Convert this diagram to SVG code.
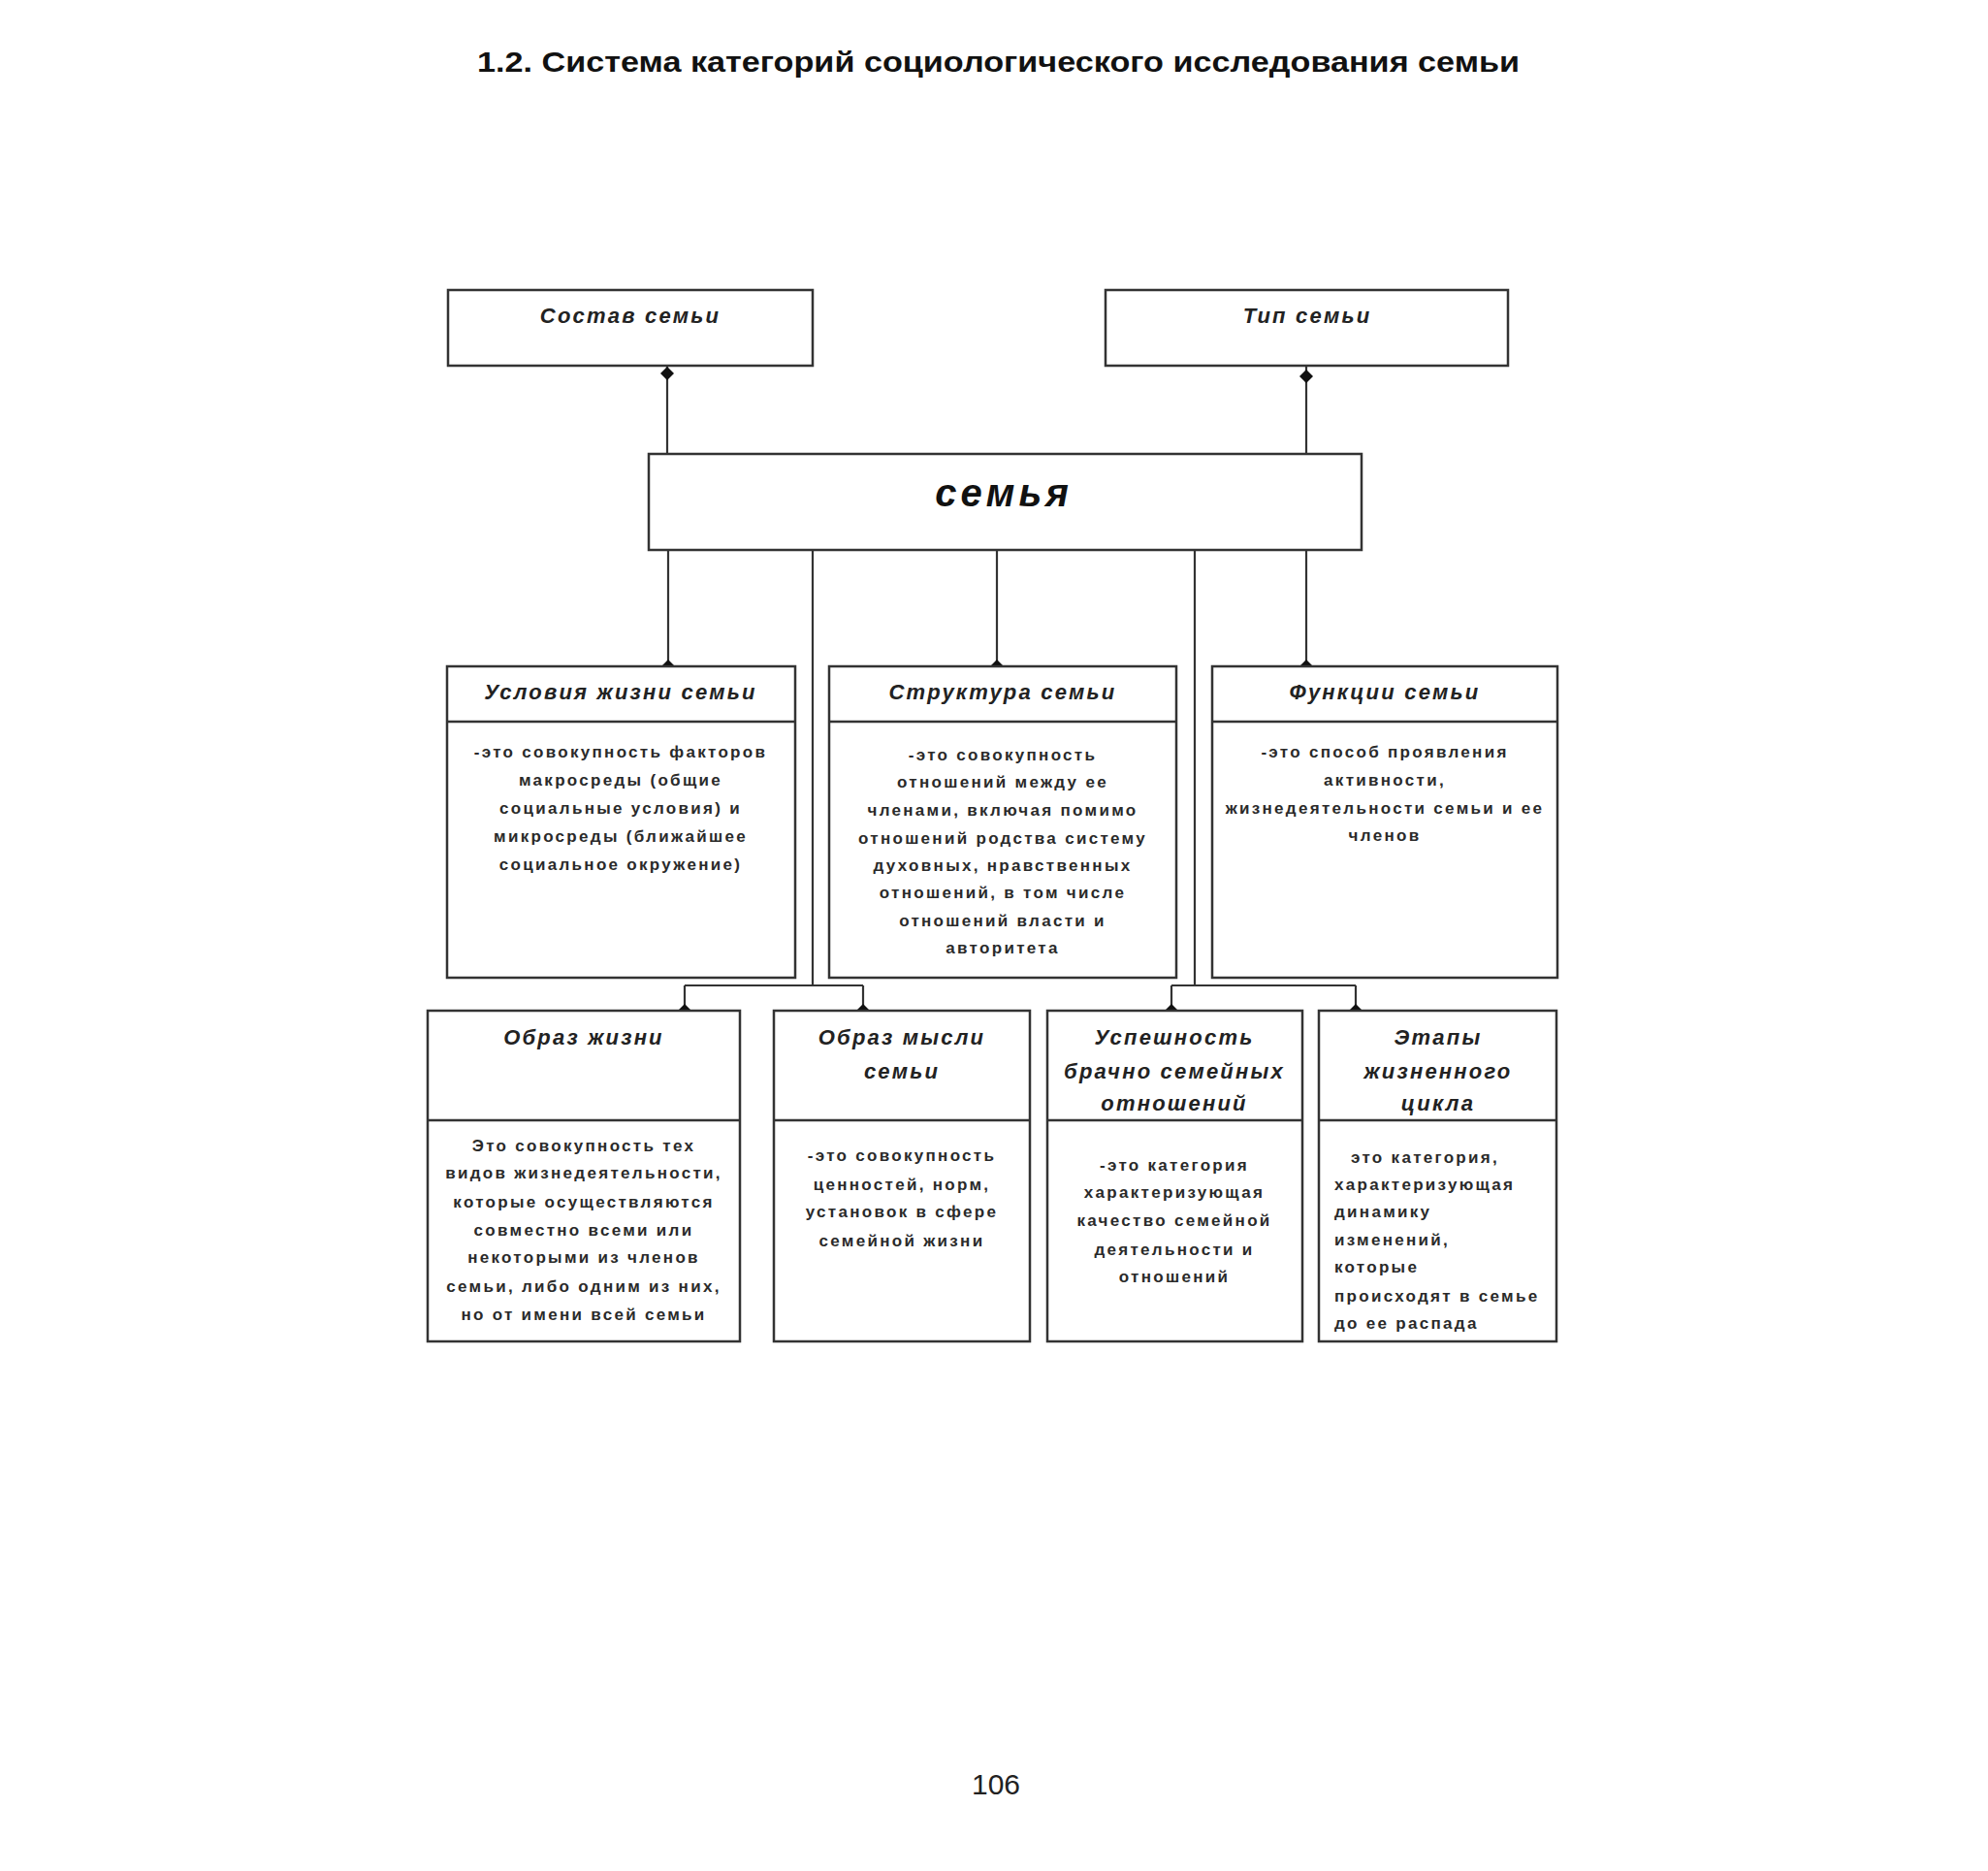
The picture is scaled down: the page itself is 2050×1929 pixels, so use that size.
<svg xmlns="http://www.w3.org/2000/svg" width="2050" height="1929" viewBox="0 0 2050 1929">
<style>
.box{fill:#fff;stroke:#333;stroke-width:2.5}
.div{stroke:#333;stroke-width:2.5}
.con{fill:none;stroke:#333;stroke-width:2.2}
.hd{font-family:"Liberation Sans",Arial,sans-serif;font-weight:bold;font-style:italic;font-size:22px;letter-spacing:2.2px;fill:#222;text-anchor:middle}
.bd{font-family:"Liberation Sans",Arial,sans-serif;font-weight:bold;font-size:17px;letter-spacing:2.3px;fill:#2a2a2a;text-anchor:middle}
.bl{text-anchor:start}
.ti{font-family:"Liberation Sans",Arial,sans-serif;font-weight:bold;font-size:30px;fill:#111}
.pg{font-family:"Liberation Sans",Arial,sans-serif;font-size:30px;fill:#222;text-anchor:middle}
.main{font-family:"Liberation Sans",Arial,sans-serif;font-weight:bold;font-style:italic;font-size:40px;letter-spacing:4px;fill:#111;text-anchor:middle}
</style>
<defs>
<marker id="dot" viewBox="-7 -7 14 14" markerWidth="14" markerHeight="14" markerUnits="userSpaceOnUse" refX="0" refY="0" orient="auto">
<path d="M0,-7 L7,0 L0,7 L-7,0 Z" fill="#111"/>
</marker>
</defs>
<rect width="2050" height="1929" fill="#fff"/>
<text class="ti" x="492" y="74" textLength="1075" lengthAdjust="spacingAndGlyphs">1.2. Система категорий социологического исследования семьи</text>

<g id="connectors">
<path class="con" d="M688,468 V385 V377" marker-mid="url(#dot)"/>
<path class="con" d="M1347,468 V388 V377" marker-mid="url(#dot)"/>
<path class="con" d="M689,567 V687" marker-end="url(#dot)"/>
<path class="con" d="M1028,567 V687" marker-end="url(#dot)"/>
<path class="con" d="M1347,567 V687" marker-end="url(#dot)"/>
<path class="con" d="M838,567 V1016"/>
<path class="con" d="M706,1016 H890"/>
<path class="con" d="M706,1016 V1042" marker-end="url(#dot)"/>
<path class="con" d="M890,1016 V1042" marker-end="url(#dot)"/>
<path class="con" d="M1232,567 V1016"/>
<path class="con" d="M1208,1016 H1398"/>
<path class="con" d="M1208,1016 V1042" marker-end="url(#dot)"/>
<path class="con" d="M1398,1016 V1042" marker-end="url(#dot)"/>
</g>

<g id="sostav">
<rect class="box" x="462" y="299" width="376" height="78"/>
<text class="hd" x="650" y="333">Состав семьи</text>
</g>
<g id="tip">
<rect class="box" x="1140" y="299" width="415" height="78"/>
<text class="hd" x="1348" y="333">Тип семьи</text>
</g>
<g id="semya">
<rect class="box" x="669" y="468" width="735" height="99"/>
<text class="main" x="1035" y="522">семья</text>
</g>

<g id="usloviya">
<rect class="box" x="461" y="687" width="359" height="321"/>
<line class="div" x1="461" y1="744" x2="820" y2="744"/>
<text class="hd" x="640" y="721">Условия жизни семьи</text>
<text class="bd" x="640" y="781">-это совокупность факторов</text>
<text class="bd" x="640" y="810">макросреды (общие</text>
<text class="bd" x="640" y="839">социальные условия) и</text>
<text class="bd" x="640" y="868">микросреды (ближайшее</text>
<text class="bd" x="640" y="897">социальное окружение)</text>
</g>

<g id="struktura">
<rect class="box" x="855" y="687" width="358" height="321"/>
<line class="div" x1="855" y1="744" x2="1213" y2="744"/>
<text class="hd" x="1034" y="721">Структура семьи</text>
<text class="bd" x="1034" y="784">-это совокупность</text>
<text class="bd" x="1034" y="812">отношений между ее</text>
<text class="bd" x="1034" y="841">членами, включая помимо</text>
<text class="bd" x="1034" y="870">отношений родства систему</text>
<text class="bd" x="1034" y="898">духовных, нравственных</text>
<text class="bd" x="1034" y="926">отношений, в том числе</text>
<text class="bd" x="1034" y="955">отношений власти и</text>
<text class="bd" x="1034" y="983">авторитета</text>
</g>

<g id="funktsii">
<rect class="box" x="1250" y="687" width="356" height="321"/>
<line class="div" x1="1250" y1="744" x2="1606" y2="744"/>
<text class="hd" x="1428" y="721">Функции семьи</text>
<text class="bd" x="1428" y="781">-это способ проявления</text>
<text class="bd" x="1428" y="810">активности,</text>
<text class="bd" x="1428" y="839">жизнедеятельности семьи и ее</text>
<text class="bd" x="1428" y="867">членов</text>
</g>

<g id="obraz-zhizni">
<rect class="box" x="441" y="1042" width="322" height="341"/>
<line class="div" x1="441" y1="1155" x2="763" y2="1155"/>
<text class="hd" x="602" y="1077">Образ жизни</text>
<text class="bd" x="602" y="1187">Это совокупность тех</text>
<text class="bd" x="602" y="1215">видов жизнедеятельности,</text>
<text class="bd" x="602" y="1245">которые осуществляются</text>
<text class="bd" x="602" y="1274">совместно всеми или</text>
<text class="bd" x="602" y="1302">некоторыми из членов</text>
<text class="bd" x="602" y="1332">семьи, либо одним из них,</text>
<text class="bd" x="602" y="1361">но от имени всей семьи</text>
</g>

<g id="obraz-mysli">
<rect class="box" x="798" y="1042" width="264" height="341"/>
<line class="div" x1="798" y1="1155" x2="1062" y2="1155"/>
<text class="hd" x="930" y="1077">Образ мысли</text>
<text class="hd" x="930" y="1112">семьи</text>
<text class="bd" x="930" y="1197">-это совокупность</text>
<text class="bd" x="930" y="1227">ценностей, норм,</text>
<text class="bd" x="930" y="1255">установок в сфере</text>
<text class="bd" x="930" y="1285">семейной жизни</text>
</g>

<g id="uspeshnost">
<rect class="box" x="1080" y="1042" width="263" height="341"/>
<line class="div" x1="1080" y1="1155" x2="1343" y2="1155"/>
<text class="hd" x="1211" y="1077">Успешность</text>
<text class="hd" x="1211" y="1112">брачно семейных</text>
<text class="hd" x="1211" y="1145">отношений</text>
<text class="bd" x="1211" y="1207">-это категория</text>
<text class="bd" x="1211" y="1235">характеризующая</text>
<text class="bd" x="1211" y="1264">качество семейной</text>
<text class="bd" x="1211" y="1294">деятельности и</text>
<text class="bd" x="1211" y="1322">отношений</text>
</g>

<g id="etapy">
<rect class="box" x="1360" y="1042" width="245" height="341"/>
<line class="div" x1="1360" y1="1155" x2="1605" y2="1155"/>
<text class="hd" x="1483" y="1077">Этапы</text>
<text class="hd" x="1483" y="1112">жизненного</text>
<text class="hd" x="1483" y="1145">цикла</text>
<text class="bd bl" x="1393" y="1199">это категория,</text>
<text class="bd bl" x="1376" y="1227">характеризующая</text>
<text class="bd bl" x="1376" y="1255">динамику</text>
<text class="bd bl" x="1376" y="1284">изменений,</text>
<text class="bd bl" x="1376" y="1312">которые</text>
<text class="bd bl" x="1376" y="1342">происходят в семье</text>
<text class="bd bl" x="1376" y="1370">до ее распада</text>
</g>

<text class="pg" x="1027" y="1850">106</text>
</svg>
